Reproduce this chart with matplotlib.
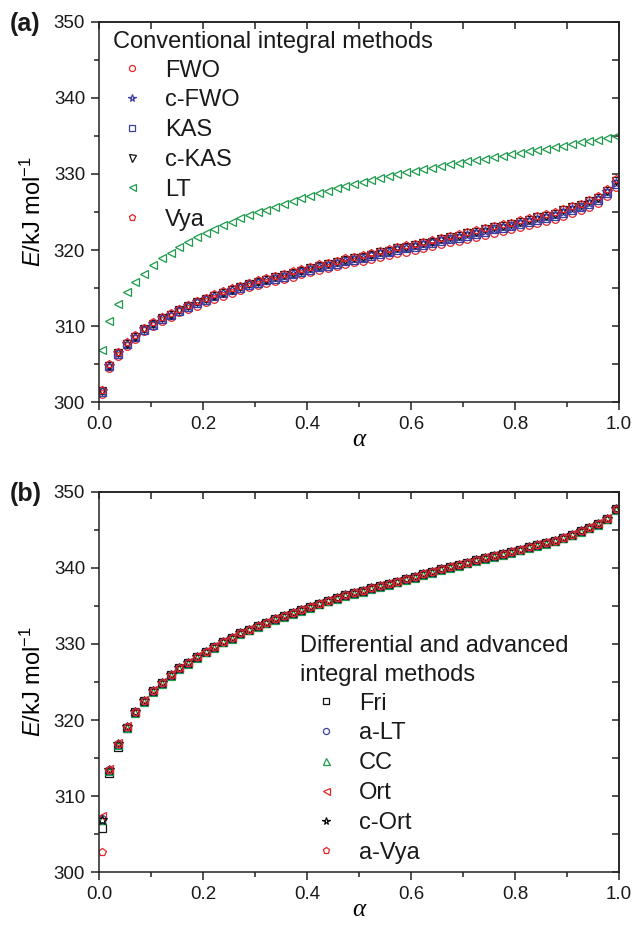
import numpy as np
import matplotlib.pyplot as plt
from matplotlib.ticker import MultipleLocator

plt.rcParams['font.family'] = ['Liberation Sans', 'DejaVu Sans']
plt.rcParams['mathtext.fontset'] = 'custom'
plt.rcParams['mathtext.rm'] = 'Liberation Sans'
plt.rcParams['mathtext.it'] = 'Liberation Sans:italic'
plt.rcParams['text.color'] = '#1a1a1a'

# --- conversion degree ---
alpha = [0.005, 0.020, 0.037, 0.054, 0.070, 0.087, 0.104, 0.121, 0.138, 0.154,
         0.171, 0.188, 0.205, 0.221, 0.238, 0.255, 0.272, 0.289, 0.305, 0.322,
         0.339, 0.356, 0.373, 0.389, 0.406, 0.423, 0.440, 0.457, 0.473, 0.490,
         0.507, 0.524, 0.540, 0.557, 0.574, 0.591, 0.608, 0.624, 0.641, 0.658,
         0.675, 0.692, 0.708, 0.725, 0.742, 0.759, 0.776, 0.792, 0.809, 0.826,
         0.843, 0.860, 0.876, 0.893, 0.910, 0.927, 0.943, 0.960, 0.977, 0.994]

# --- (a) conventional integral methods, E / kJ mol-1 ---
E_fwo = [301.1, 304.5, 306.1, 307.4, 308.3, 309.3, 310.0, 310.7, 311.2, 311.8,
         312.2, 312.7, 313.1, 313.6, 314.0, 314.4, 314.7, 315.1, 315.4, 315.7,
         315.9, 316.2, 316.5, 316.8, 317.1, 317.4, 317.6, 317.9, 318.2, 318.4,
         318.5, 318.8, 319.1, 319.3, 319.6, 319.8, 320.0, 320.3, 320.5, 320.8,
         321.0, 321.2, 321.5, 321.7, 322.0, 322.3, 322.5, 322.7, 323.0, 323.3,
         323.6, 323.8, 324.1, 324.5, 324.9, 325.2, 325.7, 326.2, 327.1, 328.3]
E_cfwo = [301.4, 304.8, 306.4, 307.7, 308.6, 309.6, 310.3, 311.0, 311.5, 312.1,
          312.6, 313.1, 313.5, 314.0, 314.4, 314.8, 315.1, 315.5, 315.8, 316.1,
          316.3, 316.6, 316.9, 317.2, 317.5, 317.8, 318.0, 318.3, 318.6, 318.8,
          319.0, 319.3, 319.6, 319.8, 320.1, 320.3, 320.5, 320.8, 321.0, 321.3,
          321.5, 321.7, 322.0, 322.2, 322.5, 322.8, 323.0, 323.2, 323.5, 323.8,
          324.1, 324.3, 324.6, 325.0, 325.4, 325.7, 326.2, 326.7, 327.6, 328.8]
E_kas = [301.3, 304.7, 306.3, 307.6, 308.5, 309.5, 310.2, 310.9, 311.4, 312.0,
         312.5, 313.0, 313.4, 313.9, 314.3, 314.7, 315.0, 315.4, 315.7, 316.0,
         316.2, 316.5, 316.8, 317.1, 317.4, 317.7, 317.9, 318.2, 318.5, 318.7,
         318.9, 319.2, 319.5, 319.7, 320.0, 320.2, 320.4, 320.7, 320.9, 321.2,
         321.4, 321.6, 321.9, 322.1, 322.4, 322.7, 322.9, 323.1, 323.4, 323.7,
         324.0, 324.2, 324.5, 324.9, 325.3, 325.6, 326.1, 326.6, 327.5, 328.7]
E_ckas = [301.4, 304.8, 306.4, 307.7, 308.6, 309.6, 310.3, 311.0, 311.5, 312.1,
          312.6, 313.1, 313.5, 314.0, 314.4, 314.8, 315.1, 315.5, 315.8, 316.1,
          316.4, 316.7, 317.0, 317.3, 317.6, 317.9, 318.1, 318.4, 318.7, 318.9,
          319.1, 319.4, 319.7, 319.9, 320.2, 320.4, 320.6, 320.9, 321.1, 321.4,
          321.7, 321.9, 322.2, 322.4, 322.7, 323.0, 323.2, 323.4, 323.7, 324.0,
          324.3, 324.5, 324.8, 325.2, 325.6, 325.9, 326.4, 326.9, 327.8, 329.1]
E_lt = [306.9, 310.6, 312.9, 314.5, 315.8, 316.9, 318.0, 318.9, 319.6, 320.4,
        321.1, 321.7, 322.3, 322.8, 323.3, 323.7, 324.2, 324.6, 325.0, 325.3,
        325.7, 326.0, 326.4, 326.8, 327.1, 327.5, 327.8, 328.1, 328.4, 328.7,
        329.0, 329.2, 329.5, 329.7, 330.0, 330.2, 330.4, 330.6, 330.8, 331.1,
        331.3, 331.5, 331.7, 331.8, 332.0, 332.2, 332.4, 332.6, 332.8, 333.0,
        333.2, 333.3, 333.5, 333.7, 333.9, 334.2, 334.3, 334.5, 334.7, 335.0]
E_vya = [301.6, 305.0, 306.6, 307.9, 308.8, 309.8, 310.5, 311.2, 311.7, 312.3,
         312.8, 313.3, 313.7, 314.2, 314.6, 315.0, 315.3, 315.7, 316.0, 316.3,
         316.6, 316.9, 317.2, 317.5, 317.8, 318.1, 318.3, 318.6, 318.9, 319.1,
         319.3, 319.6, 319.9, 320.1, 320.4, 320.6, 320.8, 321.1, 321.3, 321.6,
         321.9, 322.1, 322.4, 322.6, 322.9, 323.2, 323.4, 323.6, 323.9, 324.2,
         324.5, 324.7, 325.0, 325.4, 325.8, 326.1, 326.6, 327.1, 328.0, 329.3]

# --- (b) differential and advanced integral methods ---
E_fri = [305.8, 313.0, 316.5, 318.9, 321.0, 322.5, 323.8, 324.9, 325.9, 326.8,
         327.5, 328.3, 329.0, 329.6, 330.3, 330.8, 331.4, 331.9, 332.4, 332.8,
         333.3, 333.7, 334.1, 334.5, 334.9, 335.3, 335.7, 336.0, 336.4, 336.7,
         337.0, 337.3, 337.6, 337.9, 338.2, 338.5, 338.8, 339.2, 339.5, 339.8,
         340.1, 340.4, 340.7, 341.0, 341.3, 341.6, 341.8, 342.1, 342.4, 342.7,
         343.0, 343.3, 343.6, 344.0, 344.4, 344.8, 345.3, 345.8, 346.5, 347.7]
E_alt = [307.0, 313.4, 316.8, 319.1, 321.0, 322.5, 323.8, 324.9, 325.9, 326.8,
         327.5, 328.3, 329.0, 329.6, 330.3, 330.8, 331.4, 331.9, 332.4, 332.8,
         333.3, 333.7, 334.1, 334.5, 334.9, 335.3, 335.7, 336.0, 336.4, 336.7,
         337.0, 337.3, 337.6, 337.9, 338.2, 338.5, 338.8, 339.2, 339.5, 339.8,
         340.1, 340.4, 340.7, 341.0, 341.3, 341.6, 341.8, 342.1, 342.4, 342.7,
         343.0, 343.3, 343.6, 344.0, 344.4, 344.8, 345.3, 345.8, 346.5, 347.7]
E_cc = [306.9, 313.3, 316.7, 319.0, 320.9, 322.4, 323.7, 324.8, 325.8, 326.7,
        327.4, 328.2, 328.9, 329.5, 330.2, 330.7, 331.3, 331.8, 332.3, 332.7,
        333.2, 333.6, 334.0, 334.4, 334.8, 335.2, 335.6, 335.9, 336.3, 336.6,
        336.9, 337.2, 337.5, 337.8, 338.1, 338.4, 338.7, 339.1, 339.4, 339.7,
        340.0, 340.3, 340.6, 340.9, 341.2, 341.5, 341.7, 342.0, 342.3, 342.6,
        342.9, 343.2, 343.5, 343.9, 344.3, 344.7, 345.2, 345.7, 346.4, 347.6]
E_ort = [307.4, 313.6, 317.0, 319.2, 321.1, 322.6, 323.9, 325.0, 326.0, 326.9,
         327.6, 328.4, 329.1, 329.7, 330.4, 330.9, 331.5, 332.0, 332.5, 332.9,
         333.4, 333.8, 334.2, 334.6, 335.0, 335.4, 335.8, 336.1, 336.5, 336.8,
         337.1, 337.4, 337.7, 338.0, 338.3, 338.6, 338.9, 339.3, 339.6, 339.9,
         340.2, 340.5, 340.8, 341.1, 341.4, 341.7, 341.9, 342.2, 342.5, 342.8,
         343.1, 343.4, 343.7, 344.1, 344.5, 344.9, 345.4, 345.9, 346.6, 347.8]
E_cort = [306.9, 313.4, 316.8, 319.1, 321.0, 322.5, 323.8, 324.9, 325.9, 326.8,
          327.5, 328.3, 329.0, 329.6, 330.3, 330.8, 331.4, 331.9, 332.4, 332.8,
          333.3, 333.7, 334.1, 334.5, 334.9, 335.3, 335.7, 336.0, 336.4, 336.7,
          337.0, 337.3, 337.6, 337.9, 338.2, 338.5, 338.8, 339.2, 339.5, 339.8,
          340.1, 340.4, 340.7, 341.0, 341.3, 341.6, 341.8, 342.1, 342.4, 342.7,
          343.0, 343.3, 343.6, 344.0, 344.4, 344.8, 345.3, 345.8, 346.5, 347.7]
E_avya = [302.6, 313.4, 316.8, 319.1, 321.0, 322.5, 323.8, 324.9, 325.9, 326.8,
          327.5, 328.3, 329.0, 329.6, 330.3, 330.8, 331.4, 331.9, 332.4, 332.8,
          333.3, 333.7, 334.1, 334.5, 334.9, 335.3, 335.7, 336.0, 336.4, 336.7,
          337.0, 337.3, 337.6, 337.9, 338.2, 338.5, 338.8, 339.2, 339.5, 339.8,
          340.1, 340.4, 340.7, 341.0, 341.3, 341.6, 341.8, 342.1, 342.4, 342.7,
          343.0, 343.3, 343.6, 344.0, 344.4, 344.8, 345.3, 345.8, 346.5, 347.7]

RED, BLUE, GREEN, BLACK = '#e3262b', '#3d3fa3', '#1d9a4c', '#111111'

series_a = [('FWO', E_fwo, 'o', RED), ('c-FWO', E_cfwo, '*', BLUE),
            ('KAS', E_kas, 's', BLUE), ('c-KAS', E_ckas, 'v', BLACK),
            ('LT', E_lt, '<', GREEN), ('Vya', E_vya, 'p', RED)]
series_b = [('Fri', E_fri, 's', BLACK), ('a-LT', E_alt, 'o', BLUE),
            ('CC', E_cc, '^', GREEN), ('Ort', E_ort, '<', RED),
            ('c-Ort', E_cort, '*', BLACK), ('a-Vya', E_avya, 'p', RED)]

# marker sizes (triangles and stars look smaller at equal size)
MS = {'o': 5.5, 's': 5.5, 'p': 5.8, '*': 7.0, 'v': 6.3, '<': 6.3, '^': 6.3}

FS = 17  # legend / label font size

fig = plt.figure(figsize=(6.33, 9.27), dpi=100)
ax_a = fig.add_axes([0.1564, 0.5663, 0.8215, 0.41])
ax_b = fig.add_axes([0.1564, 0.0593, 0.8215, 0.41])


def style_axes(ax):
    ax.set_xlim(0, 1)
    ax.set_ylim(300, 350)
    ax.xaxis.set_major_locator(MultipleLocator(0.2))
    ax.xaxis.set_minor_locator(MultipleLocator(0.1))
    ax.yaxis.set_major_locator(MultipleLocator(10))
    ax.yaxis.set_minor_locator(MultipleLocator(5))
    ax.xaxis.set_major_formatter(lambda v, p: f'{v:.1f}')
    for s in ax.spines.values():
        s.set_linewidth(1.1)
        s.set_color('#222222')
    ax.tick_params(which='both', direction='out', width=1.1, color='#222222',
                   labelsize=13.5, labelcolor='#1a1a1a')
    ax.tick_params(which='major', length=6, pad=4)
    ax.tick_params(which='minor', length=3.5)
    # mirrored ticks pointing inward on top and right
    top = ax.secondary_xaxis('top')
    top.xaxis.set_major_locator(MultipleLocator(0.2))
    top.xaxis.set_minor_locator(MultipleLocator(0.1))
    right = ax.secondary_yaxis('right')
    right.yaxis.set_major_locator(MultipleLocator(10))
    right.yaxis.set_minor_locator(MultipleLocator(5))
    for sec in (top, right):
        sec.tick_params(which='both', direction='in', length=5, width=1.1,
                        color='#222222', labeltop=False, labelright=False)
        for s in sec.spines.values():
            s.set_linewidth(1.1)
            s.set_color('#222222')
    ax.set_xlabel('α', family='Liberation Serif', style='italic', fontsize=18,
                  labelpad=-3)
    ax.set_ylabel(r'$E$/kJ mol$^{-1}$', fontsize=FS, labelpad=6)


for ax, series in ((ax_a, series_a), (ax_b, series_b)):
    for name, vals, mk, col in series:
        ax.plot(alpha, vals, linestyle='none', marker=mk, ms=MS[mk], mfc='none',
                mec=col, mew=0.9, label=name)
    style_axes(ax)

leg_kw = dict(loc='upper left', frameon=False, fontsize=FS, handlelength=0.88,
              handletextpad=0.96, labelspacing=0.33, borderpad=0,
              borderaxespad=0, markerscale=0.8, numpoints=1)

ax_a.text(0.027, 0.931, 'Conventional integral methods', transform=ax_a.transAxes,
          fontsize=FS, va='baseline')
ax_a.legend(bbox_to_anchor=(0.0435, 0.901), **leg_kw)

ax_b.text(0.3865, 0.578, 'Differential and advanced', transform=ax_b.transAxes,
          fontsize=FS, va='baseline')
ax_b.text(0.3865, 0.502, 'integral methods', transform=ax_b.transAxes,
          fontsize=FS, va='baseline')
ax_b.legend(bbox_to_anchor=(0.4165, 0.472), **leg_kw)

fig.text(10 / 633, 1 - 31 / 927, '(a)', fontsize=18, weight='bold', va='baseline')
fig.text(10 / 633, 1 - 501 / 927, '(b)', fontsize=18, weight='bold', va='baseline')

fig.savefig('out.png', dpi=100)
